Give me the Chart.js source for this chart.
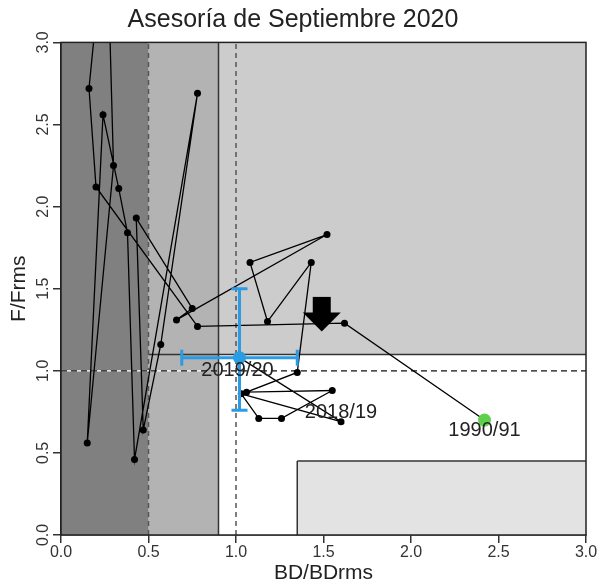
<!DOCTYPE html>
<html>
<head>
<meta charset="utf-8">
<script src="https://cdn.jsdelivr.net/npm/chart.js@4"></script>
<style>
  html, body { margin: 0; padding: 0; background: #fff; }
  #wrap { width: 603px; height: 584px; }
</style>
</head>
<body>
<div id="wrap"><canvas id="myChart" width="603" height="584"></canvas></div>
<script>
// seasons in order, first to last
const seasons = ['1990/91','1991/92','1992/93','1993/94','1994/95','1995/96','1996/97','1997/98','1998/99','1999/00',
  '2000/01','2001/02','2002/03','2003/04','2004/05','2005/06','2006/07','2007/08','2008/09','2009/10',
  '2010/11','2011/12','2012/13','2013/14','2014/15','2015/16','2016/17','2017/18','2018/19','2019/20'];
const bdRatio = [2.42, 1.62, 0.78, 0.20, 0.16, 0.26, 0.30, 0.15, 0.24, 0.33,
  0.38, 0.42, 0.78, 0.57, 0.47, 0.43, 0.75, 0.66, 1.52, 1.08,
  1.18, 1.43, 1.35, 1.06, 1.55, 1.26, 1.13, 1.03, 1.60, 1.02];
const fRatio = [0.70, 1.29, 1.27, 2.12, 2.72, 3.80, 2.25, 0.56, 2.56, 2.11,
  1.84, 0.46, 2.69, 1.16, 0.64, 1.93, 1.38, 1.31, 1.83, 1.66,
  1.30, 1.66, 0.99, 0.87, 0.88, 0.71, 0.71, 0.86, 0.69, 1.08];
const xTickLabels = ['0.0', '0.5', '1.0', '1.5', '2.0', '2.5', '3.0'];
const yTickLabels = ['0.0', '0.5', '1.0', '1.5', '2.0', '2.5', '3.0'];
// uncertainty of the last season
const lastBdRange = [0.69, 1.35];
const lastFRange = [0.76, 1.50];
const labelledSeasons = ['1990/91', '2018/19', '2019/20'];

const blue = '#2b9be3';
const green = '#5fd04a';
const last = seasons.length - 1;
const path = seasons.map((s, i) => ({x: bdRatio[i], y: fRatio[i]}));

Chart.defaults.font.family = "'Liberation Sans', Arial, sans-serif";

const zonesPlugin = {
  id: 'zones',
  beforeDatasetsDraw(chart) {
    const {ctx, chartArea: a, scales: {x, y}} = chart;
    const X = v => x.getPixelForValue(v);
    const Y = v => y.getPixelForValue(v);
    ctx.save();
    ctx.beginPath(); ctx.rect(a.left, a.top, a.width, a.height); ctx.clip();
    const box = (x0, x1, y0, y1, color) => {
      ctx.fillStyle = color;
      ctx.fillRect(X(x0), Y(y1), X(x1) - X(x0), Y(y0) - Y(y1));
    };
    box(0.9, 3, 0, 3, '#ffffff');
    box(0.9, 3, 1.1, 3, '#cccccc');
    box(0.5, 0.9, 0, 3, '#b3b3b3');
    box(0, 0.5, 0, 3, '#808080');
    box(1.35, 3, 0, 0.45, '#e3e3e3');
    const seg = (x0, y0, x1, y1, color, width, dash) => {
      ctx.beginPath();
      ctx.strokeStyle = color; ctx.lineWidth = width; ctx.setLineDash(dash || []);
      ctx.moveTo(X(x0), Y(y0)); ctx.lineTo(X(x1), Y(y1)); ctx.stroke();
    };
    seg(0.9, 0, 0.9, 3, '#333', 1.5);
    seg(0.5, 1.1, 3, 1.1, '#333', 1.5);
    seg(1.35, 0, 1.35, 0.45, '#333', 1.5);
    seg(1.35, 0.45, 3, 0.45, '#333', 1.5);
    seg(0.5, 0, 0.5, 3, '#555', 1.5, [5, 4]);
    seg(1.0, 0, 1.0, 3, '#555', 1.5, [5, 4]);
    seg(0, 1, 0.8, 1, '#ffffff', 1.2);
    seg(0, 1, 3, 1, '#111', 1.2, [6, 4]);
    ctx.restore();
  },
  afterDatasetsDraw(chart) {
    const {ctx, chartArea: a, scales: {x, y}} = chart;
    ctx.save();
    // arrow
    const ax = x.getPixelForValue(1.49);
    const aTop = y.getPixelForValue(1.45);
    const aTip = y.getPixelForValue(1.24);
    const aBase = aTip - 19;
    ctx.fillStyle = '#000';
    ctx.fillRect(ax - 9, aTop, 18, aBase - aTop + 1);
    ctx.beginPath();
    ctx.moveTo(ax - 19, aBase); ctx.lineTo(ax + 19, aBase); ctx.lineTo(ax, aTip); ctx.closePath();
    ctx.fill();
    // plot frame
    ctx.strokeStyle = '#222'; ctx.lineWidth = 1.5;
    ctx.strokeRect(a.left, a.top, a.width, a.height);
    // season labels
    ctx.font = "20px 'Liberation Sans', Arial, sans-serif";
    ctx.fillStyle = '#222';
    ctx.textAlign = 'center'; ctx.textBaseline = 'middle';
    const offsets = {'1990/91': [0, 10], '2018/19': [0, -9], '2019/20': [-2, 13]};
    labelledSeasons.forEach(s => {
      const i = seasons.indexOf(s);
      const o = offsets[s];
      ctx.fillText(s, x.getPixelForValue(bdRatio[i]) + o[0], y.getPixelForValue(fRatio[i]) + o[1]);
    });
    // y tick labels, written along the axis
    ctx.font = "16px 'Liberation Sans', Arial, sans-serif";
    ctx.fillStyle = '#333';
    y.ticks.forEach((t, i) => {
      ctx.save();
      ctx.translate(44, y.getPixelForValue(t.value));
      ctx.rotate(-Math.PI / 2);
      ctx.fillText(yTickLabels[i], 0, 0);
      ctx.restore();
    });
    ctx.restore();
  }
};

const ctx = document.getElementById('myChart');

new Chart(ctx, {
  type: 'scatter',
  data: {
    datasets: [
      {
        data: [{x: bdRatio[last], y: fRatio[last]}],
        pointRadius: 6.5, pointBackgroundColor: blue, pointBorderColor: blue, pointBorderWidth: 0
      },
      {
        data: [{x: lastBdRange[0], y: fRatio[last]}, {x: lastBdRange[1], y: fRatio[last]}],
        showLine: true, borderColor: blue, borderWidth: 3,
        pointStyle: 'line', rotation: 90, pointRadius: 8, pointBorderColor: blue, pointBorderWidth: 3
      },
      {
        data: [{x: bdRatio[last], y: lastFRange[0]}, {x: bdRatio[last], y: lastFRange[1]}],
        showLine: true, borderColor: blue, borderWidth: 3,
        pointStyle: 'line', rotation: 0, pointRadius: 8, pointBorderColor: blue, pointBorderWidth: 3
      },
      {
        data: [path[0]],
        pointRadius: 6.5, pointBackgroundColor: green, pointBorderColor: green, pointBorderWidth: 0
      },
      {
        data: path,
        showLine: true, borderColor: '#000', borderWidth: 1.3,
        pointRadius: 3.5, pointBackgroundColor: '#000', pointBorderColor: '#000', pointBorderWidth: 0
      }
    ]
  },
  options: {
    responsive: false,
    animation: false,
    events: [],
    layout: { padding: { left: 0, right: 17, top: 0, bottom: 0 } },
    plugins: {
      legend: { display: false },
      tooltip: { enabled: false },
      title: {
        display: true,
        text: 'Asesoría de Septiembre 2020',
        color: '#222',
        font: { size: 25, weight: 'normal' },
        padding: { top: 5, bottom: 7.4 }
      }
    },
    scales: {
      x: {
        type: 'linear', min: 0, max: 3,
        afterFit: s => { s.height = 49; },
        afterBuildTicks: s => { s.ticks = xTickLabels.map(l => ({ value: parseFloat(l) })); },
        ticks: { callback: (v, i) => xTickLabels[i], font: { size: 16 }, color: '#333', padding: 0, maxRotation: 0, autoSkip: false },
        grid: { drawOnChartArea: false, tickLength: 8, color: '#333', lineWidth: 1.5 },
        border: { display: true, color: '#222', width: 1.5 },
        title: { display: true, text: 'BD/BDrms', color: '#222', font: { size: 21, lineHeight: 1 }, padding: { top: 0, bottom: 0 } }
      },
      y: {
        type: 'linear', min: 0, max: 3,
        afterFit: s => { s.width = 61; },
        afterBuildTicks: s => { s.ticks = yTickLabels.map(l => ({ value: parseFloat(l) })); },
        ticks: { display: false },
        grid: { drawOnChartArea: false, tickLength: 8, color: '#333', lineWidth: 1.5 },
        border: { display: true, color: '#222', width: 1.5 },
        title: { display: true, text: 'F/Frms', color: '#222', font: { size: 21, lineHeight: 1 }, padding: { top: 9, bottom: 0 } }
      }
    }
  },
  plugins: [zonesPlugin]
});
</script>
</body>
</html>
